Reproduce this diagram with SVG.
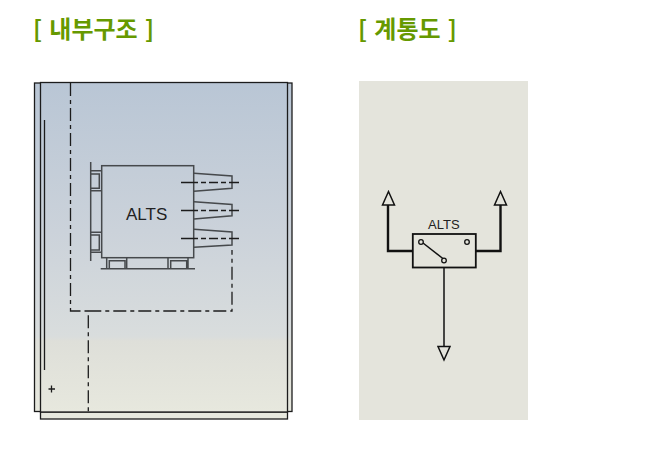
<svg xmlns="http://www.w3.org/2000/svg" width="648" height="457" viewBox="0 0 648 457">
<style>
.t{font-family:"Noto Sans CJK KR","Liberation Sans",sans-serif;font-weight:700;font-size:24px;fill:#669900;word-spacing:1.800px}
.k{fill:none;stroke:#1c1c1c;stroke-width:1.300}
.d{fill:none;stroke:#46494c;stroke-width:1.500}
.l{font-family:"Liberation Sans",Arial,sans-serif;fill:#222}
.w{fill:none;stroke:#111;stroke-width:2.400}
.n{fill:none;stroke:#111;stroke-width:1.500}
.c{fill:#e4e4dc;stroke:#111;stroke-width:1.300}
</style>
<defs>
<linearGradient id="g" gradientUnits="userSpaceOnUse" x1="0" y1="83" x2="0" y2="412">
<stop offset="0" stop-color="#b9c6d5"/>
<stop offset="0.45" stop-color="#cbd2da"/>
<stop offset="0.77" stop-color="#d9dddd"/>
<stop offset="0.785" stop-color="#dedfd9"/>
<stop offset="1" stop-color="#e7e8de"/>
</linearGradient>
</defs>
<g id="title-left"><text class="t" x="33" y="38" xml:space="preserve">[ 내부구조 ]</text></g>
<g id="title-right"><text class="t" x="358" y="38" xml:space="preserve">[ 계통도 ]</text></g>
<g id="cabinet">
<rect x="34.500" y="83" width="257.500" height="328.500" fill="url(#g)" stroke="#1c1c1c" stroke-width="1.300"/>
<rect x="40.500" y="412" width="247" height="7" fill="#e7e8de" stroke="#1c1c1c" stroke-width="1.300"/>
<rect x="40.500" y="82.500" width="247" height="329.500" fill="url(#g)" stroke="#1c1c1c" stroke-width="1.300"/>
<path class="k" d="M44.500 120V370M48.500 389H55M51.500 385.500V392.500"/>
</g>
<g id="alts-unit">
<rect x="101.700" y="165.700" width="92" height="92" class="d"/>
<path class="d" d="M90.700 162V261M90.700 170.700H101.700M90.700 190.700H101.700M90.700 232.300H101.700M90.700 252.300H101.700M90.700 174H99.300V188.300H90.700M90.700 235H99.300V250H90.700M106.700 257.500V268.500M126.700 257.500V268.500M168 257.500V268.500M188 257.500V268.500M100.700 268.700H195M109.300 268.500V260.700H125V268.500M170.700 268.500V260.700H186.700V268.500"/>
<path class="d" d="M194 173.300L232 176V188.300L194 191.300M194 201.700L232 204.500V215.700L194 219M194 229.300L232 232V245L194 247.300"/>
<path class="k" d="M181 182.500H239M181 210.500H239M181 238.500H239" stroke-dasharray="17 3 5 3 9 3 5 3 40"/>
<text class="l" x="126" y="220" font-size="17">ALTS</text>
</g>
<g id="connectors">
<path class="k" d="M70.500 83V311H88.300V412M88.300 311H232V250" stroke-dasharray="13 4 4 4"/>
</g>
<g id="schematic">
<rect x="359" y="81" width="169" height="339" fill="#e4e4dc"/>
<rect x="412.800" y="234" width="63" height="33.500" fill="#e4e4dc" stroke="#111" stroke-width="1.800"/>
<path class="w" d="M412 251H388V205M476 251H500.500V205"/>
<path class="n" d="M444 267.500V347"/>
<path class="n" d="M388.500 191.500L382.500 205H394.500ZM500.500 191.500L494.500 205H506.500ZM444 360L438 346.500H450Z"/>
<path class="n" d="M423 243L443.500 259"/>
<circle cx="421" cy="242" r="2.300" class="c"/>
<circle cx="467" cy="242" r="2.300" class="c"/>
<circle cx="444" cy="260.500" r="2.300" class="c"/>
<text class="l" x="428" y="229" font-size="13">ALTS</text>
</g>
</svg>
